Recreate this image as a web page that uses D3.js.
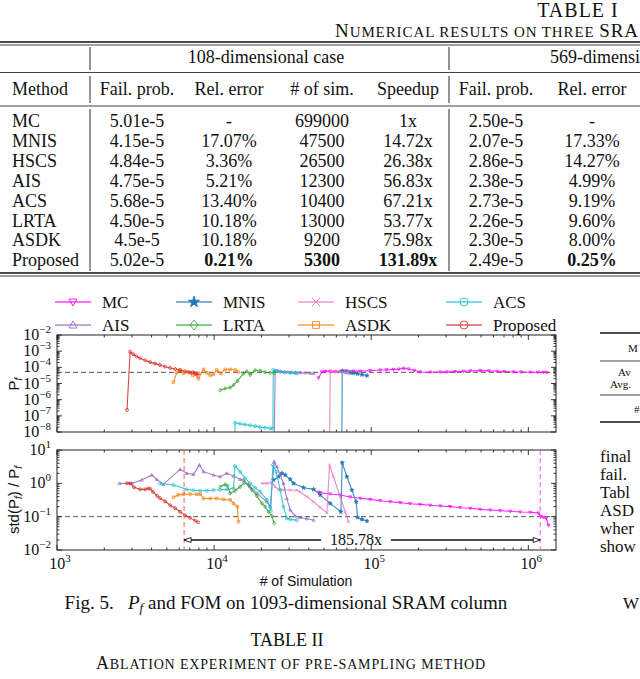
<!DOCTYPE html>
<html>
<head>
<meta charset="utf-8">
<script src="https://cdn.jsdelivr.net/npm/d3@7/dist/d3.min.js"></script>
<style>
  html, body { margin:0; padding:0; background:#fff; }
  svg { display:block; }
</style>
</head>
<body>
<svg id="page" width="640" height="679" viewBox="0 0 640 679"></svg>
<script>
// ================= TABLE I data =================
const tableMethods = ["MC","MNIS","HSCS","AIS","ACS","LRTA","ASDK","Proposed"];
const tableHeaders = ["Fail. prob.","Rel. error","# of sim.","Speedup","Fail. prob.","Rel. error"];
const failProb108 = ["5.01e-5","4.15e-5","4.84e-5","4.75e-5","5.68e-5","4.50e-5","4.5e-5","5.02e-5"];
const relError108 = ["-","17.07%","3.36%","5.21%","13.40%","10.18%","10.18%","0.21%"];
const numSim108   = ["699000","47500","26500","12300","10400","13000","9200","5300"];
const speedup108  = ["1x","14.72x","26.38x","56.83x","67.21x","53.77x","75.98x","131.89x"];
const failProb569 = ["2.50e-5","2.07e-5","2.86e-5","2.38e-5","2.73e-5","2.26e-5","2.30e-5","2.49e-5"];
const relError569 = ["-","17.33%","14.27%","4.99%","9.19%","9.60%","8.00%","0.25%"];

// ================= Fig. 5 data ([# of simulation, value]) =================
const mcPf = [[46160,2.2e-5],[48500,5.2e-5],[51000,5.6e-5],[54800,5.8e-5],[58900,5.5e-5],[63450,5.6e-5],[69980,6.0e-5],[77000,5.8e-5],[85070,5.8e-5],[98600,6.2e-5],[114100,6.8e-5],[125000,7.0e-5],[138700,7.4e-5],[150000,7.8e-5],[160800,8.5e-5],[173000,7.9e-5],[188000,6.4e-5],[205000,5.2e-5],[237500,5.0e-5],[274800,5.1e-5],[303500,5.2e-5],[340000,5.4e-5],[387200,5.7e-5],[427300,6.0e-5],[494400,6.3e-5],[560000,6.0e-5],[632000,5.7e-5],[700000,5.5e-5],[805600,5.2e-5],[900000,5.1e-5],[1030000,5.0e-5],[1150000,4.9e-5],[1250000,4.9e-5],[1315000,4.8e-5]];
const mcFom = [[46160,0.54],[47330,0.525],[54800,0.48],[63450,0.447],[73470,0.39],[85070,0.355],[98600,0.33],[114100,0.30],[132100,0.28],[153000,0.263],[177000,0.245],[205000,0.234],[237500,0.219],[274800,0.209],[318000,0.2],[368700,0.186],[427300,0.178],[494400,0.166],[572800,0.158],[663000,0.151],[767500,0.145],[889000,0.138],[1030000,0.135],[1160000,0.128],[1200000,0.1],[1250000,0.096],[1300000,0.088],[1345000,0.054]];

const mnisPf = [[23890,1e-10],[65000,1e-10],[65350,6.0e-5],[67000,5.4e-5],[69980,5.0e-5],[73470,4.6e-5],[77000,4.4e-5],[81790,4.0e-5],[87270,3.5e-5],[93920,3.1e-5]];
const mnisFom = [[23890,1.26],[25690,1.58],[27000,2.0],[28340,1.78],[30500,1.32],[32010,1.0],[37060,0.74],[42960,0.66],[47330,0.45],[54800,0.25],[64130,0.14],[65350,4.17],[69980,1.58],[75290,0.63],[80200,0.28],[81790,0.095],[87270,0.083],[93920,0.074]];

const hscsPf = [[20150,1e-10],[54200,1e-10],[54800,5.6e-5],[57300,5.2e-5],[60000,5.0e-5],[63450,5.1e-5],[66500,4.8e-5],[69980,4.9e-5],[71640,4.7e-5]];
const hscsFom = [[20150,1.0],[21680,1.0],[23330,1.05],[24480,0.79],[25690,0.66],[27640,0.63],[30500,0.63],[33660,0.62],[35320,0.55],[38920,0.4],[42960,0.28],[47330,0.19],[52200,0.13],[54260,3.55],[57530,1.58],[63450,0.4],[68280,0.14],[71640,0.07]];

const acsPf = [[4525,1e-10],[13500,1e-10],[13600,3.7e-8],[14640,3.2e-8],[15750,2.9e-8],[16950,2.6e-8],[18240,2.3e-8],[19630,2.0e-8],[21120,1.85e-8],[22730,1.7e-8],[23660,1.6e-8],[23800,6.8e-5],[25060,6.0e-5],[26340,5.4e-5],[28340,4.8e-5],[30500,4.6e-5],[32820,4.4e-5],[33660,4.2e-5]];
const acsFom = [[4525,1.0],[5510,0.89],[6700,0.66],[7380,0.62],[8140,0.6],[8990,0.6],[9900,0.63],[10920,0.64],[12050,0.66],[13290,0.71],[13600,3.3],[14640,2.24],[15750,1.41],[16950,1.0],[18240,0.74],[19630,0.56],[21680,0.32],[22960,0.15],[23660,3.55],[24830,2.24],[26340,0.63],[27640,0.2],[29040,0.089],[30500,0.083],[33660,0.079]];

const aisPf = [[2500,1e-10],[24000,1e-10],[24480,6.5e-5],[25500,5.8e-5],[26700,5.5e-5],[28000,5.3e-5],[29500,5.2e-5],[31000,5.0e-5],[33000,4.9e-5],[35300,4.7e-5],[38000,4.6e-5],[40900,4.4e-5],[43000,4.3e-5]];
const aisFom = [[2500,1.0],[2990,1.0],[3460,1.26],[4010,1.78],[4315,1.32],[4750,0.93],[6070,2.63],[6700,2.0],[7380,1.86],[8060,3.55],[8560,2.24],[9900,1.78],[10920,1.58],[12050,2.0],[13290,1.66],[14640,1.32],[15380,1.26],[16950,0.79],[18710,0.5],[21680,0.28],[22730,0.2],[24120,4.47],[25060,3.16],[26340,1.78],[27640,1.0],[29040,0.35],[30500,0.16],[32820,0.105],[35320,0.095],[38920,0.087],[42960,0.079]];

const lrtaPf = [[10920,3.8e-6],[11750,4.9e-6],[12640,5.6e-6],[13290,8.0e-6],[14070,1.4e-5],[15380,4.2e-5],[16150,5.8e-5],[16950,3.4e-5],[18240,6.6e-5],[19630,6.2e-5],[21120,5.0e-5],[22730,4.6e-5],[24120,4.5e-5]];
const lrtaFom = [[10920,0.79],[11750,0.93],[12160,0.85],[12640,0.5],[13600,0.6],[14640,0.79],[15540,1.05],[16530,0.89],[17380,0.63],[18710,0.42],[20150,0.25],[21120,0.2],[22190,0.14],[23330,0.105],[24120,0.063]];

const asdkPf = [[5510,1.2e-5],[5780,4.6e-5],[6070,6.8e-5],[6370,4.2e-5],[6860,5.2e-5],[7310,3.3e-5],[7570,4.6e-5],[7945,2.0e-5],[8560,7.4e-5],[8990,4.6e-5],[9440,3.3e-5],[9900,3.6e-5],[10400,6.8e-5],[11040,4.2e-5],[11750,7.4e-5],[12640,7.4e-5],[13600,6.8e-5],[14280,5.2e-5]];
const asdkFom = [[5510,0.38],[5925,0.45],[6370,0.47],[7030,0.48],[7760,0.47],[8140,0.48],[8560,0.35],[9440,0.35],[10400,0.35],[11470,0.33],[12640,0.32],[13290,0.25],[14070,0.2],[14280,0.071]];

const proposedPf = [[2790,2.3e-7],[2920,9.2e-4],[3050,6.5e-4],[3200,4.8e-4],[3380,3.6e-4],[3640,2.7e-4],[3910,2.1e-4],[4210,1.7e-4],[4525,1.4e-4],[4870,1.1e-4],[5250,9.2e-5],[5650,7.8e-5],[6070,6.7e-5],[6530,5.7e-5],[7030,4.7e-5],[7310,5.0e-5],[7570,4.0e-5],[7790,3.5e-5],[7950,4.2e-5]];
const proposedFom = [[2790,1.0],[2920,1.0],[3090,0.76],[3380,0.66],[3640,0.66],[3800,0.70],[3910,0.69],[4085,0.55],[4335,0.42],[4525,0.36],[4870,0.29],[5250,0.22],[5650,0.18],[6070,0.14],[6530,0.11],[7030,0.092],[7570,0.076],[7910,0.068]];

const legendRow1 = ["MC","MNIS","HSCS","ACS"];
const legendRow2 = ["AIS","LRTA","ASDK","Proposed"];
const refPf = 4.9e-5;
const refFom = 0.1;
const convergeProposed = 6440;
const convergeMC = 1190000;
const speedupLabel = "185.78x";

// visible page text around the figure
const rightTableTexts = ["M","Av","Avg.","#"];
const bodyWords = ["final","fail.","Tabl","ASD","wher","show"];

// ================= styles =================
const SERIF = '"Liberation Serif","Times New Roman",Times,serif';
const SANS = '"Liberation Sans",Arial,Helvetica,sans-serif';
const seriesStyle = {
  MC:{color:"#ff00ff", marker:"triDown"},
  MNIS:{color:"#1f77b4", marker:"star"},
  HSCS:{color:"#e377c2", marker:"x"},
  ACS:{color:"#17becf", marker:"circle"},
  AIS:{color:"#9467bd", marker:"triUp"},
  LRTA:{color:"#2ca02c", marker:"diamond"},
  ASDK:{color:"#ff7f0e", marker:"square"},
  Proposed:{color:"#d62728", marker:"circle"}
};
const seriesData = {
  MC:[mcPf,mcFom], MNIS:[mnisPf,mnisFom], HSCS:[hscsPf,hscsFom], ACS:[acsPf,acsFom],
  AIS:[aisPf,aisFom], LRTA:[lrtaPf,lrtaFom], ASDK:[asdkPf,asdkFom], Proposed:[proposedPf,proposedFom]
};
const drawOrder = ["MC","MNIS","HSCS","AIS","ACS","LRTA","ASDK","Proposed"];

const svg = d3.select("#page");
svg.append("rect").attr("width",640).attr("height",679).attr("fill","#fff");

// small-caps helper: parts = [[text, big?], ...]; stretched to a target width
function smallCaps(parent, x0, y, parts, big, small, target){
  const t = parent.append("text").attr("x",x0).attr("y",y).attr("font-family",SERIF).attr("fill","#111");
  parts.forEach(([s,b])=>t.append("tspan").attr("font-size", b?big:small).text(s));
  if (target){
    const n = t.node().getNumberOfChars();
    const w = t.node().getComputedTextLength();
    t.attr("letter-spacing", ((target - w)/n).toFixed(3));
  }
  return t;
}

// ================= TABLE I =================
const T = svg.append("g").attr("font-family",SERIF).attr("fill","#111");
T.append("text").attr("x",578).attr("y",17).attr("text-anchor","middle").attr("font-size",20)
  .attr("letter-spacing",1).text("TABLE I");
smallCaps(T, 335, 37, [["N",1],["UMERICAL RESULTS ON THREE ",0],["SRA",1]], 19, 15, 304);

function hrule(y, w){ T.append("line").attr("x1",0).attr("x2",640).attr("y1",y).attr("y2",y).attr("stroke","#111").attr("stroke-width",w); }
hrule(42,1.6); hrule(45,0.8);
hrule(72.5,0.8); hrule(106,0.8);
hrule(273,1.6); hrule(276,0.8);
[90,449].forEach(bx=>{
  [[47,70],[76,103],[109,271]].forEach(([a,b])=>{
    T.append("line").attr("x1",bx).attr("x2",bx).attr("y1",a).attr("y2",b).attr("stroke","#111").attr("stroke-width",0.9);
  });
});
const TFS = 18;
T.append("text").attr("x",266).attr("y",63).attr("text-anchor","middle").attr("font-size",TFS).text("108-dimensional case");
T.append("text").attr("x",640).attr("y",63).attr("text-anchor","end").attr("font-size",TFS).text("569-dimensi");
const colX = [137,229,322,408,496,592];
T.append("text").attr("x",12).attr("y",95).attr("font-size",TFS).text("Method");
tableHeaders.forEach((h,i)=>T.append("text").attr("x",colX[i]).attr("y",95).attr("text-anchor","middle").attr("font-size",TFS).text(h));
const cols = [failProb108, relError108, numSim108, speedup108, failProb569, relError569];
const boldCols = [1,2,3,5];
tableMethods.forEach((m,r)=>{
  const y = 127 + r*19.9;
  T.append("text").attr("x",12).attr("y",y).attr("font-size",TFS).text(m);
  cols.forEach((c,i)=>{
    T.append("text").attr("x",colX[i]).attr("y",y).attr("text-anchor","middle").attr("font-size",TFS)
      .attr("font-weight", (m==="Proposed" && boldCols.includes(i)) ? "bold" : "normal").text(c[r]);
  });
});

// ================= Fig. 5 =================
const X0 = 57, X1 = 556;
const x = d3.scaleLog().domain([1e3, 1.5e6]).range([X0, X1]);
const yTop = d3.scaleLog().domain([1e-8, 1e-2]).range([432, 335]);
const yBot = d3.scaleLog().domain([1e-2, 1e1]).range([550, 450]);
const isMajor = v => Math.abs(Math.log10(v) - Math.round(Math.log10(v))) < 1e-9;

function mk(type, r){
  switch(type){
    case "triDown": return `M${-r},${-r*0.75}L${r},${-r*0.75}L0,${r}Z`;
    case "triUp": return `M${-r},${r*0.75}L${r},${r*0.75}L0,${-r}Z`;
    case "star": return d3.symbol(d3.symbolStar, r*r*2.4)();
    case "x": return `M${-r},${-r}L${r},${r}M${-r},${r}L${r},${-r}`;
    case "circle": return d3.symbol(d3.symbolCircle, Math.PI*r*r)();
    case "diamond": return `M0,${-r*1.25}L${r},0L0,${r*1.25}L${-r},0Z`;
    case "square": return `M${-r*0.85},${-r*0.85}H${r*0.85}V${r*0.85}H${-r*0.85}Z`;
  }
}

const defs = svg.append("defs");
function clip(id, top, bottom){
  defs.append("clipPath").attr("id",id).append("rect").attr("x",X0).attr("y",top).attr("width",X1-X0).attr("height",bottom-top);
}
clip("clipTop",335,432); clip("clipBot",450,550);

function panel(yScale, idx, clipId, showXLabels){
  const [top,bottom] = [yScale.range()[1], yScale.range()[0]];
  const g = svg.append("g");
  const ref = idx===0 ? refPf : refFom;
  g.append("line").attr("x1",X0).attr("x2",X1).attr("y1",yScale(ref)).attr("y2",yScale(ref))
    .attr("stroke","#555").attr("stroke-width",1).attr("stroke-dasharray","5,3");
  const data = g.append("g").attr("clip-path",`url(#${clipId})`);
  drawOrder.forEach(name=>{
    const st = seriesStyle[name], d = seriesData[name][idx];
    data.append("path").datum(d)
      .attr("d", d3.line().x(p=>x(p[0])).y(p=>yScale(p[1])))
      .attr("fill","none").attr("stroke",st.color).attr("stroke-width",1.1).attr("stroke-opacity",0.85);
    data.append("g").selectAll("path").data(d).join("path")
      .attr("transform",p=>`translate(${x(p[0])},${yScale(p[1])})`)
      .attr("d",mk(st.marker,1.5))
      .attr("fill", st.marker==="star" ? st.color : "none")
      .attr("stroke",st.color).attr("stroke-width",0.8).attr("stroke-opacity",0.9);
  });
  const ax = g.append("g").attr("stroke","#222").attr("stroke-width",0.9);
  x.ticks().forEach(v=>{
    const px = x(v), L = isMajor(v) ? 5 : 2.5;
    ax.append("line").attr("x1",px).attr("x2",px).attr("y1",bottom).attr("y2",bottom-L);
    ax.append("line").attr("x1",px).attr("x2",px).attr("y1",top).attr("y2",top+L);
  });
  yScale.ticks().forEach(v=>{
    const py = yScale(v), L = isMajor(v) ? 5 : 2.5;
    ax.append("line").attr("x1",X0).attr("x2",X0+L).attr("y1",py).attr("y2",py);
    ax.append("line").attr("x1",X1).attr("x2",X1-L).attr("y1",py).attr("y2",py);
  });
  g.append("rect").attr("x",X0).attr("y",top).attr("width",X1-X0).attr("height",bottom-top)
    .attr("fill","none").attr("stroke","#222").attr("stroke-width",1);
  yScale.ticks().filter(isMajor).forEach(v=>{
    const e = Math.round(Math.log10(v));
    const t = g.append("text").attr("x",51).attr("y",yScale(v)+5).attr("text-anchor","end")
      .attr("font-family",SERIF).attr("font-size",16).attr("fill","#111");
    t.append("tspan").text("10");
    t.append("tspan").attr("dy",-7).attr("font-size",11).text(String(e).replace("-","\u2212"));
  });
  if (showXLabels){
    x.ticks().filter(isMajor).forEach(v=>{
      const e = Math.round(Math.log10(v));
      const t = g.append("text").attr("x",x(v)+3).attr("y",569).attr("text-anchor","middle")
        .attr("font-family",SERIF).attr("font-size",16).attr("fill","#111");
      t.append("tspan").text("10");
      t.append("tspan").attr("dy",-7).attr("font-size",11).text(String(e));
    });
  }
  return g;
}
panel(yTop, 0, "clipTop", false);
const gb = panel(yBot, 1, "clipBot", true);

// convergence markers & speedup arrow
const xa = x(convergeProposed), xb = x(convergeMC);
gb.append("line").attr("x1",xa).attr("x2",xa).attr("y1",450).attr("y2",550).attr("stroke","#ff5a5a").attr("stroke-width",1).attr("stroke-dasharray","5,3");
gb.append("line").attr("x1",xb).attr("x2",xb).attr("y1",450).attr("y2",550).attr("stroke","#ff55ff").attr("stroke-width",1).attr("stroke-dasharray","5,3");
const ay = 540;
const lab = gb.append("text").attr("x",356).attr("y",ay+5).attr("text-anchor","middle")
  .attr("font-family",SERIF).attr("font-size",16).attr("fill","#111").text(speedupLabel);
const bb = lab.node().getBBox();
gb.append("line").attr("x1",xa).attr("x2",bb.x-9).attr("y1",ay).attr("y2",ay).attr("stroke","#111").attr("stroke-width",1.3);
gb.append("line").attr("x1",bb.x+bb.width+9).attr("x2",xb).attr("y1",ay).attr("y2",ay).attr("stroke","#111").attr("stroke-width",1.3);
gb.append("path").attr("d",`M${xa},${ay}L${xa+7},${ay-2.5}L${xa+7},${ay+2.5}Z`).attr("fill","#fff").attr("stroke","#111").attr("stroke-width",0.9);
gb.append("path").attr("d",`M${xb},${ay}L${xb-7},${ay-2.5}L${xb-7},${ay+2.5}Z`).attr("fill","#fff").attr("stroke","#111").attr("stroke-width",0.9);

// axis titles
const yl1 = svg.append("text").attr("transform","translate(19,384) rotate(-90)").attr("text-anchor","middle")
  .attr("font-family",SANS).attr("font-size",15).attr("fill","#111");
yl1.append("tspan").text("P");
yl1.append("tspan").attr("dy",3).attr("font-size",10).attr("font-style","italic").text("f");
const yl2 = svg.append("text").attr("transform","translate(19,500) rotate(-90)").attr("text-anchor","middle")
  .attr("font-family",SANS).attr("font-size",15).attr("fill","#111");
yl2.append("tspan").text("std(P");
yl2.append("tspan").attr("dy",3).attr("font-size",10).attr("font-style","italic").text("f");
yl2.append("tspan").attr("dy",-3).text(") / P");
yl2.append("tspan").attr("dy",3).attr("font-size",10).attr("font-style","italic").text("f");
svg.append("text").attr("x",306).attr("y",586).attr("text-anchor","middle").attr("font-family",SANS)
  .attr("font-size",14).attr("fill","#111").text("# of Simulation");

// legend
const legLineX = [55,176,298,446];
const legRowY = [302,325];
[legendRow1, legendRow2].forEach((row,ri)=>{
  row.forEach((name,ci)=>{
    const st = seriesStyle[name], lx = legLineX[ci], ly = legRowY[ri];
    svg.append("line").attr("x1",lx).attr("x2",lx+36).attr("y1",ly).attr("y2",ly)
      .attr("stroke",st.color).attr("stroke-width",1.3).attr("stroke-opacity",0.75);
    svg.append("path").attr("transform",`translate(${lx+18},${ly})`).attr("d",mk(st.marker,4))
      .attr("fill", st.marker==="star" ? st.color : "none").attr("stroke",st.color).attr("stroke-width",1).attr("stroke-opacity",0.85);
    svg.append("text").attr("x",lx+47).attr("y",ly+6).attr("font-family",SERIF).attr("font-size",17)
      .attr("fill","#111").text(name);
  });
});

// caption & following text
const cap = svg.append("text").attr("x",286).attr("y",609).attr("text-anchor","middle")
  .attr("font-family",SERIF).attr("font-size",19).attr("fill","#111");
cap.append("tspan").text("Fig. 5.\u2002 ");
cap.append("tspan").attr("font-style","italic").text("P");
cap.append("tspan").attr("font-style","italic").attr("font-size",13).attr("dy",3).text("f");
cap.append("tspan").attr("dy",-3).text(" and FOM on 1093-dimensional SRAM column");
svg.append("text").attr("x",287).attr("y",646).attr("text-anchor","middle").attr("font-family",SERIF)
  .attr("font-size",18).attr("fill","#111").text("TABLE II");
smallCaps(svg, 96, 669, [["A",1],["BLATION EXPERIMENT OF PRE-SAMPLING METHOD",0]], 18, 14, 390);

// right column (cut by the page edge)
const R = svg.append("g").attr("font-family",SERIF).attr("fill","#111");
[[333,1.4],[361,0.8],[395,0.8],[422,1.4]].forEach(([y,w])=>R.append("line").attr("x1",600).attr("x2",640).attr("y1",y).attr("y2",y).attr("stroke","#111").attr("stroke-width",w));
const rtPos = [[628,352],[618,376],[610,388],[634,413]];
rightTableTexts.forEach((s,i)=>R.append("text").attr("x",rtPos[i][0]).attr("y",rtPos[i][1]).attr("font-size",11).text(s));
bodyWords.forEach((w,i)=>R.append("text").attr("x",600).attr("y",462+i*17.9).attr("font-size",17).text(w));
R.append("text").attr("x",623).attr("y",609).attr("font-size",17).text("W");
</script>
</body>
</html>
